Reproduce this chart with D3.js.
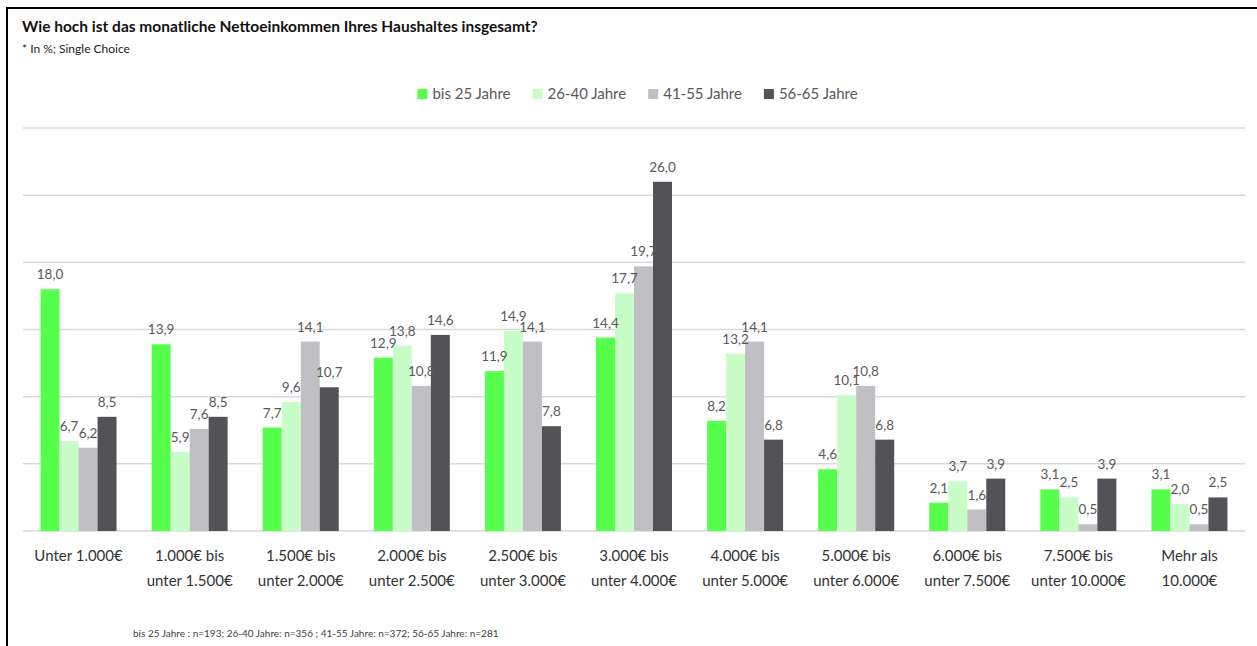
<!DOCTYPE html>
<html>
<head>
<meta charset="utf-8">
<script src="https://cdn.jsdelivr.net/npm/d3@7"></script>
<style>
  html, body { margin: 0; padding: 0; background: #fff; }
  svg { display: block; font-family: Lato, "Noto Sans", sans-serif; }
</style>
</head>
<body>
<svg id="chart" width="1257" height="646"></svg>
<script>
(function() {
    'use strict';

    const categories = [
        'Unter 1.000€',
        '1.000€ bis\nunter 1.500€',
        '1.500€ bis\nunter 2.000€',
        '2.000€ bis\nunter 2.500€',
        '2.500€ bis\nunter 3.000€',
        '3.000€ bis\nunter 4.000€',
        '4.000€ bis\nunter 5.000€',
        '5.000€ bis\nunter 6.000€',
        '6.000€ bis\nunter 7.500€',
        '7.500€ bis\nunter 10.000€',
        'Mehr als\n10.000€'
    ];
    const seriesNames = ['bis 25 Jahre', '26-40 Jahre', '41-55 Jahre', '56-65 Jahre'];
    const bis25 = [18.0, 13.9, 7.7, 12.9, 11.9, 14.4, 8.2, 4.6, 2.1, 3.1, 3.1];
    const j26bis40 = [6.7, 5.9, 9.6, 13.8, 14.9, 17.7, 13.2, 10.1, 3.7, 2.5, 2.0];
    const j41bis55 = [6.2, 7.6, 14.1, 10.8, 14.1, 19.7, 14.1, 10.8, 1.6, 0.5, 0.5];
    const j56bis65 = [8.5, 8.5, 10.7, 14.6, 7.8, 26.0, 6.8, 6.8, 3.9, 3.9, 2.5];
    const yTicks = [0, 5, 10, 15, 20, 25, 30];

    const seriesValues = [bis25, j26bis40, j41bis55, j56bis65];
    const colors = ['#55ff4b', '#c9fdc7', '#c0bfc4', '#525257'];

    const svg = d3.select('#chart');
    const W = 1257, H = 646;
    const plot = { left: 23, right: 1245, top: 128, bottom: 531 };

    // frame
    svg.append('path')
        .attr('d', `M7,${H} L7,8 L${W},8`)
        .attr('fill', 'none')
        .attr('stroke', '#000')
        .attr('stroke-width', 2);

    // titles
    svg.append('text')
        .attr('x', 22).attr('y', 32)
        .style('font-size', '15.5px')
        .style('font-weight', 'bold')
        .style('fill', '#111')
        .text('Wie hoch ist das monatliche Nettoeinkommen Ihres Haushaltes insgesamt?');
    svg.append('text')
        .attr('x', 22).attr('y', 53)
        .style('font-size', '12px')
        .style('fill', '#222')
        .text('* In %; Single Choice');

    const x = d3.scaleBand()
        .domain(categories)
        .range([plot.left, plot.right])
        .paddingInner(0.316)
        .paddingOuter(0.158);
    const xs = d3.scaleBand()
        .domain(d3.range(seriesNames.length))
        .range([0, x.bandwidth()]);
    const y = d3.scaleLinear()
        .domain([0, 30])
        .range([plot.bottom, plot.top]);

    // gridlines
    svg.append('g')
        .selectAll('line')
        .data(yTicks)
        .enter()
        .append('line')
        .attr('x1', plot.left)
        .attr('x2', plot.right)
        .attr('y1', d => y(d))
        .attr('y2', d => y(d))
        .attr('stroke', '#d9d9d9')
        .attr('stroke-width', 1.5);

    const fmt = d3.formatLocale({ decimal: ',', thousands: '.', grouping: [3], currency: ['', '€'] }).format('.1f');

    const rows = [];
    categories.forEach((c, i) => {
        seriesValues.forEach((vals, s) => {
            rows.push({ cat: c, s: s, v: vals[i] });
        });
    });

    svg.append('g')
        .selectAll('rect')
        .data(rows)
        .enter()
        .append('rect')
        .attr('x', d => x(d.cat) + xs(d.s))
        .attr('y', d => y(d.v))
        .attr('width', xs.bandwidth())
        .attr('height', d => y(0) - y(d.v))
        .attr('fill', d => colors[d.s]);

    svg.append('g')
        .selectAll('text')
        .data(rows)
        .enter()
        .append('text')
        .attr('x', d => x(d.cat) + xs(d.s) + xs.bandwidth() / 2)
        .attr('y', d => y(d.v) - 10)
        .attr('text-anchor', 'middle')
        .style('font-size', '13.5px')
        .style('fill', '#595959')
        .text(d => fmt(d.v));

    // x labels
    const xl = svg.append('g')
        .selectAll('text')
        .data(categories)
        .enter()
        .append('text')
        .attr('x', d => x(d) + x.bandwidth() / 2)
        .attr('y', 561)
        .attr('text-anchor', 'middle')
        .style('font-size', '15px')
        .style('fill', '#333');
    xl.selectAll('tspan')
        .data(d => d.split('\n'))
        .enter()
        .append('tspan')
        .attr('x', function() { return d3.select(this.parentNode).attr('x'); })
        .attr('dy', (d, i) => i === 0 ? 0 : 25)
        .text(d => d);

    // legend
    const legend = svg.append('g');
    let lx = 0;
    seriesNames.forEach((name, i) => {
        const item = legend.append('g').attr('transform', `translate(${lx},0)`);
        item.append('rect')
            .attr('x', 0).attr('y', -10)
            .attr('width', 10).attr('height', 10)
            .attr('fill', colors[i]);
        const t = item.append('text')
            .attr('x', 15).attr('y', 0)
            .style('font-size', '15px')
            .style('fill', '#595959')
            .text(name);
        lx += 15 + t.node().getComputedTextLength() + 22;
    });
    lx -= 22;
    legend.attr('transform', `translate(${(W - lx) / 2 + 9},99)`);

    // footnote
    svg.append('text')
        .attr('x', 133).attr('y', 637)
        .style('font-size', '10px')
        .style('fill', '#404040')
        .text('bis 25 Jahre : n=193; 26-40 Jahre: n=356 ; 41-55 Jahre: n=372; 56-65 Jahre: n=281');
})();
</script>
</body>
</html>
